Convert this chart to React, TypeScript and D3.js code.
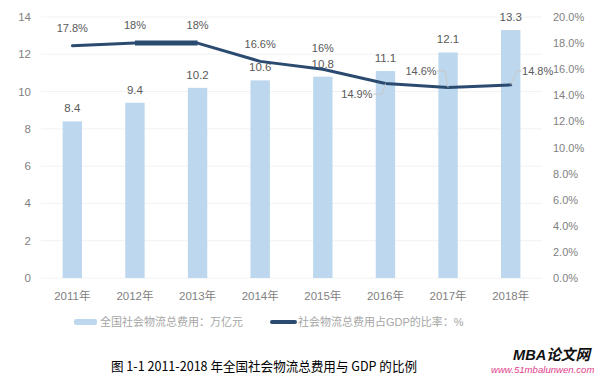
import React from "react";
import * as d3 from "d3";

const years = ["2011年", "2012年", "2013年", "2014年", "2015年", "2016年", "2017年", "2018年"];
const costs = [8.4, 9.4, 10.2, 10.6, 10.8, 11.1, 12.1, 13.3];
const ratios = [17.8, 18, 18, 16.6, 16, 14.9, 14.6, 14.8];
const ratioLabels = ["17.8%", "18%", "18%", "16.6%", "16%", "14.9%", "14.6%", "14.8%"];
const leftTicks = [0, 2, 4, 6, 8, 10, 12, 14];
const rightTicks = [0, 2, 4, 6, 8, 10, 12, 14, 16, 18, 20];
const legendBar = "全国社会物流总费用：万亿元";
const legendLine = "社会物流总费用占GDP的比率：%";
const caption = "图 1-1 2011-2018 年全国社会物流总费用与 GDP 的比例";

// label placement offsets (dx, dy baseline) relative to the point; leader flag
const ratioLabelOffsets: [number, number, boolean][] = [
  [0, -14, false],
  [0, -14, false],
  [0, -14, false],
  [0, -13, false],
  [0, -17, false],
  [-28.5, 14.5, true],
  [-27, -12.5, true],
  [27, -10, true],
];

export default function App() {
  const W = 594, H = 377;
  const x = d3.scalePoint<string>().domain(years).range([41, 542]).padding(0.5);
  const step = x.step();
  const bw = step * 0.31;
  const yL = d3.scaleLinear().domain([0, 14]).range([278, 17]);
  const yR = d3.scaleLinear().domain([0, 20]).range([278, 17]);
  const font = "'Liberation Sans', Arial, 'Noto Sans CJK SC', sans-serif";
  const lineGen = d3
    .line<number>()
    .x((_, i) => x(years[i])!)
    .y((d) => yR(d));
  const segGen = d3
    .line<number>()
    .x((_, i) => x(years[i + 1])!)
    .y((d) => yR(d));
  const lineColor = "#2B4A70";

  return (
    <div style={{ position: "absolute", left: 0, top: 0 }}>
      <svg width={W} height={H} style={{ display: "block", fontFamily: font }}>
        <rect width={W} height={H} fill="#fff" />
        {leftTicks.map((t) => (
          <line key={t} x1={41} x2={542} y1={yL(t)} y2={yL(t)} stroke="#F2F2F2" strokeWidth={1} />
        ))}
        {leftTicks.map((t) => (
          <text key={t} x={31} y={yL(t) + 4} textAnchor="end" fontSize={11.5} fill="#7F7F7F">
            {t}
          </text>
        ))}
        {rightTicks.map((t) => (
          <text key={t} x={553} y={yR(t) + 4} textAnchor="start" fontSize={11} fill="#7F7F7F">
            {t.toFixed(1) + "%"}
          </text>
        ))}
        {years.map((yv) => (
          <text key={yv} x={x(yv)!} y={300} textAnchor="middle" fontSize={11.5} fill="#7F7F7F">
            {yv}
          </text>
        ))}
        {costs.map((c, i) => (
          <rect key={i} x={x(years[i])! - bw / 2} y={yL(c)} width={bw} height={yL(0) - yL(c)} fill="#BDD7EE" />
        ))}
        {costs.map((c, i) => (
          <text key={i} x={x(years[i])!} y={yL(c) - 9} textAnchor="middle" fontSize={11.5} fill="#595959">
            {c}
          </text>
        ))}
        <path d={lineGen(ratios) || ""} fill="none" stroke={lineColor} strokeWidth={3} strokeLinejoin="round" strokeLinecap="round" />
        <path d={segGen(ratios.slice(1, 3)) || ""} fill="none" stroke={lineColor} strokeWidth={5} />
        {ratios.map((r, i) => {
          const px = x(years[i])!;
          const py = yR(r);
          const [dx, dy, leader] = ratioLabelOffsets[i];
          const lx = px + dx;
          const ly = py + dy;
          let leaderPath = "";
          if (leader) {
            const edge = dx < 0 ? lx + 16 : lx - 16;
            const mid = dx < 0 ? px - 3 : px + 6;
            leaderPath = `M${edge},${ly - 4}H${mid}L${px},${py}`;
          }
          return (
            <g key={i}>
              {leader && <path d={leaderPath} fill="none" stroke="#C8C8C8" strokeWidth={1} />}
              <text x={lx} y={ly} textAnchor="middle" fontSize={11} fill="#595959">
                {ratioLabels[i]}
              </text>
            </g>
          );
        })}
        <g>
          <rect x={74} y={319} width={23} height={6} rx={2} fill="#BDD7EE" />
          <text x={100} y={326} fontSize={11} fill="#A6A6A6">
            {legendBar}
          </text>
          <line x1={272} x2={295} y1={322} y2={322} stroke={lineColor} strokeWidth={4} strokeLinecap="round" />
          <text x={298} y={326} fontSize={11} fill="#A6A6A6">
            {legendLine}
          </text>
        </g>
        <text x={111} y={371} fontSize={13} fill="#000" textLength={306} lengthAdjust="spacingAndGlyphs" style={{ fontFamily: "'Noto Sans CJK SC', serif" }}>
          {caption}
        </text>
        <text x={513} y={360} fontSize={15} fontWeight="bold" fontStyle="italic" fill="#111" textLength={77} lengthAdjust="spacingAndGlyphs" style={{ fontFamily: "'Liberation Sans', 'Noto Sans CJK SC', sans-serif" }}>
          MBA论文网
        </text>
        <text x={491} y={373} fontSize={9.6} fontStyle="italic" fill="#E0408A" style={{ fontFamily: "'Liberation Sans', sans-serif" }}>
          www.51mbalunwen.com
        </text>
      </svg>
    </div>
  );
}
